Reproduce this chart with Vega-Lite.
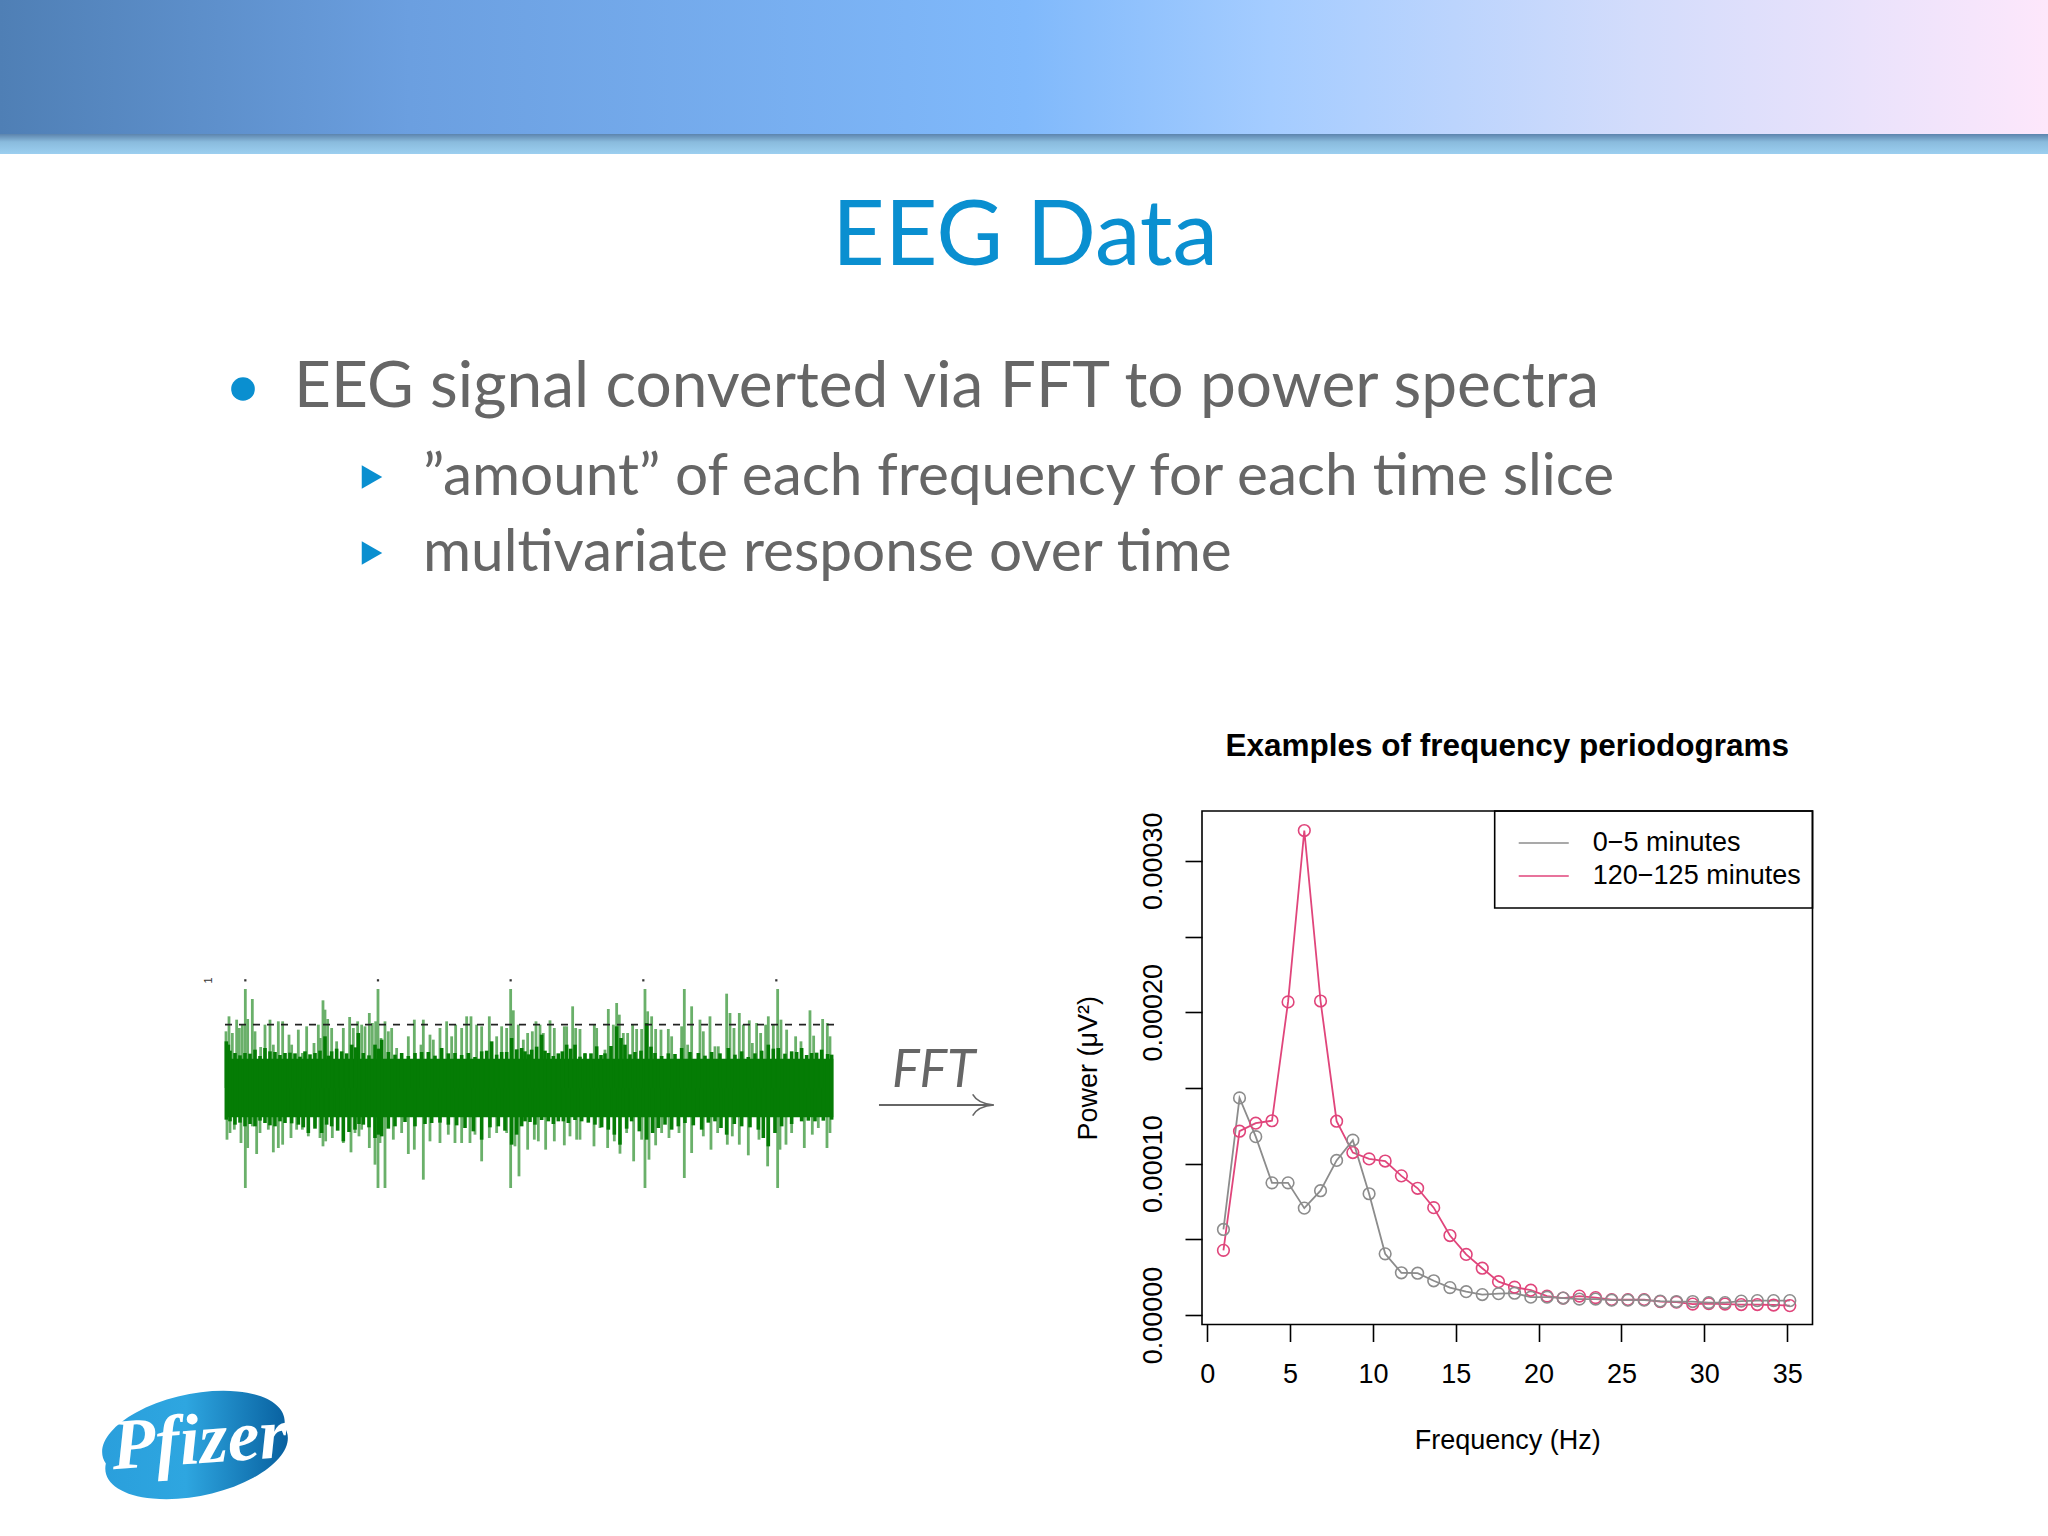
{
  "$schema": "https://vega.github.io/schema/vega-lite/v6.json",
  "description": "Slide: EEG signal converted via FFT to power spectra",
  "background": "white",
  "padding": 0,
  "bounds": "flush",
  "spacing": 0,
  "config": {
    "view": {"stroke": null},
    "font": "Liberation Sans",
    "concat": {"spacing": 0}
  },
  "resolve": {
    "scale": {"color": "independent", "size": "independent", "shape": "independent"},
    "legend": {"color": "independent"}
  },
  "datasets": {
    "spectra": [
      {"freq":0.98,"series":"120−125 minutes","power":0.0000427},{"freq":1.95,"series":"120−125 minutes","power":0.0001214},{"freq":2.93,"series":"120−125 minutes","power":0.0001267},{"freq":3.91,"series":"120−125 minutes","power":0.0001283},{"freq":4.88,"series":"120−125 minutes","power":0.0002068},{"freq":5.86,"series":"120−125 minutes","power":0.00032},{"freq":6.84,"series":"120−125 minutes","power":0.0002074},{"freq":7.81,"series":"120−125 minutes","power":0.000128},{"freq":8.79,"series":"120−125 minutes","power":0.0001073},{"freq":9.77,"series":"120−125 minutes","power":0.0001031},{"freq":10.74,"series":"120−125 minutes","power":0.0001017},{"freq":11.72,"series":"120−125 minutes","power":0.0000919},{"freq":12.7,"series":"120−125 minutes","power":0.0000837},{"freq":13.67,"series":"120−125 minutes","power":0.0000709},{"freq":14.65,"series":"120−125 minutes","power":0.0000525},{"freq":15.63,"series":"120−125 minutes","power":0.00004},{"freq":16.6,"series":"120−125 minutes","power":0.0000309},{"freq":17.58,"series":"120−125 minutes","power":0.000022},{"freq":18.55,"series":"120−125 minutes","power":0.0000184},{"freq":19.53,"series":"120−125 minutes","power":0.0000164},{"freq":20.51,"series":"120−125 minutes","power":0.0000125},{"freq":21.48,"series":"120−125 minutes","power":0.0000112},{"freq":22.46,"series":"120−125 minutes","power":0.0000125},{"freq":23.44,"series":"120−125 minutes","power":0.0000115},{"freq":24.41,"series":"120−125 minutes","power":0.0000102},{"freq":25.39,"series":"120−125 minutes","power":0.0000102},{"freq":26.37,"series":"120−125 minutes","power":0.0000102},{"freq":27.34,"series":"120−125 minutes","power":0.0000089},{"freq":28.32,"series":"120−125 minutes","power":0.0000085},{"freq":29.3,"series":"120−125 minutes","power":0.0000072},{"freq":30.27,"series":"120−125 minutes","power":0.0000075},{"freq":31.25,"series":"120−125 minutes","power":0.0000072},{"freq":32.23,"series":"120−125 minutes","power":0.0000069},{"freq":33.2,"series":"120−125 minutes","power":0.0000069},{"freq":34.18,"series":"120−125 minutes","power":0.0000066},{"freq":35.16,"series":"120−125 minutes","power":0.0000062},
      {"freq":0.98,"series":"0−5 minutes","power":0.0000565},{"freq":1.95,"series":"0−5 minutes","power":0.0001434},{"freq":2.93,"series":"0−5 minutes","power":0.0001178},{"freq":3.91,"series":"0−5 minutes","power":0.0000873},{"freq":4.88,"series":"0−5 minutes","power":0.0000873},{"freq":5.86,"series":"0−5 minutes","power":0.0000706},{"freq":6.84,"series":"0−5 minutes","power":0.0000821},{"freq":7.81,"series":"0−5 minutes","power":0.0001021},{"freq":8.79,"series":"0−5 minutes","power":0.0001155},{"freq":9.77,"series":"0−5 minutes","power":0.0000801},{"freq":10.74,"series":"0−5 minutes","power":0.0000404},{"freq":11.72,"series":"0−5 minutes","power":0.0000279},{"freq":12.7,"series":"0−5 minutes","power":0.0000276},{"freq":13.67,"series":"0−5 minutes","power":0.0000226},{"freq":14.65,"series":"0−5 minutes","power":0.0000181},{"freq":15.63,"series":"0−5 minutes","power":0.0000154},{"freq":16.6,"series":"0−5 minutes","power":0.0000135},{"freq":17.58,"series":"0−5 minutes","power":0.0000141},{"freq":18.55,"series":"0−5 minutes","power":0.0000144},{"freq":19.53,"series":"0−5 minutes","power":0.0000118},{"freq":20.51,"series":"0−5 minutes","power":0.0000118},{"freq":21.48,"series":"0−5 minutes","power":0.0000112},{"freq":22.46,"series":"0−5 minutes","power":0.0000105},{"freq":23.44,"series":"0−5 minutes","power":0.0000105},{"freq":24.41,"series":"0−5 minutes","power":0.0000098},{"freq":25.39,"series":"0−5 minutes","power":0.0000098},{"freq":26.37,"series":"0−5 minutes","power":0.0000098},{"freq":27.34,"series":"0−5 minutes","power":0.0000092},{"freq":28.32,"series":"0−5 minutes","power":0.0000089},{"freq":29.3,"series":"0−5 minutes","power":0.0000089},{"freq":30.27,"series":"0−5 minutes","power":0.0000082},{"freq":31.25,"series":"0−5 minutes","power":0.0000082},{"freq":32.23,"series":"0−5 minutes","power":0.0000092},{"freq":33.2,"series":"0−5 minutes","power":0.0000095},{"freq":34.18,"series":"0−5 minutes","power":0.0000095},{"freq":35.16,"series":"0−5 minutes","power":0.0000095}
    ],
    "eeg_core": [
      {"u":4,"a":140},{"u":10,"a":130},{"u":30,"a":105},{"u":60,"a":105},{"u":90,"a":115},{"u":120,"a":120},{"u":150,"a":108},{"u":180,"a":105},{"u":210,"a":104},{"u":240,"a":110},{"u":270,"a":105},{"u":300,"a":155},{"u":320,"a":110},{"u":350,"a":110},{"u":380,"a":130},{"u":400,"a":165},{"u":415,"a":105},{"u":450,"a":130},{"u":470,"a":145},{"u":490,"a":108},{"u":530,"a":105},{"u":570,"a":105},{"u":610,"a":108},{"u":650,"a":120},{"u":690,"a":105},{"u":730,"a":105},{"u":770,"a":110},{"u":800,"a":140},{"u":830,"a":108},{"u":860,"a":150},{"u":890,"a":120},{"u":900,"a":110},{"u":920,"a":115},{"u":950,"a":160},{"u":970,"a":105},{"u":1000,"a":104},{"u":1025,"a":130},{"u":1050,"a":130},{"u":1080,"a":104},{"u":1115,"a":125},{"u":1140,"a":104},{"u":1175,"a":185},{"u":1200,"a":130},{"u":1230,"a":108},{"u":1265,"a":195},{"u":1290,"a":105},{"u":1330,"a":104},{"u":1370,"a":120},{"u":1420,"a":105},{"u":1460,"a":108},{"u":1510,"a":120},{"u":1550,"a":110},{"u":1590,"a":104},{"u":1630,"a":130},{"u":1660,"a":120},{"u":1700,"a":110},{"u":1730,"a":120},{"u":1760,"a":105},{"u":1790,"a":115},{"u":1820,"a":100},
      {"u":15,"a":112},{"u":45,"a":98},{"u":75,"a":103},{"u":105,"a":96},{"u":135,"a":110},{"u":165,"a":99},{"u":195,"a":106},{"u":225,"a":94},{"u":255,"a":101},{"u":285,"a":112},{"u":310,"a":97},{"u":335,"a":118},{"u":365,"a":104},{"u":392,"a":122},{"u":432,"a":98},{"u":460,"a":118},{"u":510,"a":100},{"u":550,"a":96},{"u":590,"a":108},{"u":630,"a":97},{"u":670,"a":104},{"u":710,"a":99},{"u":750,"a":93},{"u":785,"a":112},{"u":815,"a":100},{"u":845,"a":108},{"u":875,"a":116},{"u":910,"a":101},{"u":935,"a":124},{"u":960,"a":112},{"u":985,"a":96},{"u":1012,"a":110},{"u":1037,"a":118},{"u":1065,"a":94},{"u":1098,"a":104},{"u":1128,"a":99},{"u":1158,"a":126},{"u":1188,"a":150},{"u":1215,"a":101},{"u":1248,"a":112},{"u":1278,"a":124},{"u":1310,"a":96},{"u":1350,"a":102},{"u":1395,"a":108},{"u":1440,"a":97},{"u":1485,"a":104},{"u":1530,"a":100},{"u":1570,"a":93},{"u":1610,"a":112},{"u":1645,"a":118},{"u":1680,"a":103},{"u":1715,"a":108},{"u":1745,"a":99},{"u":1775,"a":106},{"u":1808,"a":102},
      {"u":4,"a":-95},{"u":30,"a":-110},{"u":60,"a":-115},{"u":90,"a":-115},{"u":120,"a":-105},{"u":150,"a":-115},{"u":180,"a":-105},{"u":220,"a":-110},{"u":250,"a":-135},{"u":290,"a":-135},{"u":320,"a":-115},{"u":355,"a":-160},{"u":390,"a":-125},{"u":415,"a":-110},{"u":450,"a":-150},{"u":470,"a":-145},{"u":510,"a":-115},{"u":570,"a":-115},{"u":620,"a":-105},{"u":670,"a":-110},{"u":720,"a":-120},{"u":770,"a":-155},{"u":820,"a":-115},{"u":860,"a":-170},{"u":890,"a":-115},{"u":900,"a":-100},{"u":930,"a":-110},{"u":970,"a":-100},{"u":1000,"a":-100},{"u":1030,"a":-105},{"u":1070,"a":-100},{"u":1110,"a":-110},{"u":1150,"a":-125},{"u":1185,"a":-170},{"u":1220,"a":-100},{"u":1265,"a":-155},{"u":1300,"a":-120},{"u":1340,"a":-125},{"u":1380,"a":-105},{"u":1430,"a":-125},{"u":1470,"a":-100},{"u":1505,"a":-140},{"u":1550,"a":-115},{"u":1600,"a":-125},{"u":1630,"a":-175},{"u":1670,"a":-115},{"u":1730,"a":-100},{"u":1770,"a":-100},{"u":1820,"a":-95},
      {"u":15,"a":-100},{"u":45,"a":-104},{"u":75,"a":-108},{"u":105,"a":-98},{"u":135,"a":-112},{"u":165,"a":-100},{"u":200,"a":-106},{"u":235,"a":-118},{"u":270,"a":-122},{"u":305,"a":-110},{"u":338,"a":-128},{"u":372,"a":-132},{"u":402,"a":-108},{"u":432,"a":-118},{"u":460,"a":-140},{"u":490,"a":-122},{"u":540,"a":-102},{"u":600,"a":-108},{"u":645,"a":-104},{"u":695,"a":-112},{"u":745,"a":-130},{"u":795,"a":-118},{"u":840,"a":-128},{"u":875,"a":-140},{"u":915,"a":-102},{"u":950,"a":-96},{"u":985,"a":-108},{"u":1015,"a":-100},{"u":1050,"a":-96},{"u":1090,"a":-104},{"u":1130,"a":-118},{"u":1168,"a":-140},{"u":1205,"a":-122},{"u":1243,"a":-130},{"u":1283,"a":-135},{"u":1320,"a":-110},{"u":1360,"a":-115},{"u":1405,"a":-112},{"u":1450,"a":-104},{"u":1488,"a":-120},{"u":1528,"a":-108},{"u":1575,"a":-118},{"u":1615,"a":-150},{"u":1650,"a":-135},{"u":1700,"a":-108},{"u":1750,"a":-98},{"u":1795,"a":-98}
    ],
    "eeg_spikes": [
      {"u":3,"a":170},{"u":12,"a":215},{"u":22,"a":165},{"u":35,"a":205},{"u":43,"a":180},{"u":52,"a":190},{"u":61,"a":297},{"u":68,"a":207},{"u":82,"a":267},{"u":90,"a":170},{"u":107,"a":123},{"u":120,"a":190},{"u":135,"a":205},{"u":145,"a":130},{"u":160,"a":200},{"u":173,"a":200},{"u":192,"a":160},{"u":200,"a":130},{"u":220,"a":175},{"u":232,"a":105},{"u":245,"a":185},{"u":267,"a":135},{"u":280,"a":190},{"u":286,"a":150},{"u":294,"a":263},{"u":300,"a":235},{"u":308,"a":207},{"u":320,"a":180},{"u":335,"a":140},{"u":355,"a":180},{"u":374,"a":213},{"u":385,"a":180},{"u":398,"a":200},{"u":410,"a":190},{"u":420,"a":185},{"u":433,"a":225},{"u":442,"a":195},{"u":452,"a":200},{"u":459,"a":297},{"u":468,"a":150},{"u":480,"a":200},{"u":490,"a":170},{"u":500,"a":180},{"u":515,"a":120},{"u":550,"a":155},{"u":568,"a":205},{"u":588,"a":130},{"u":595,"a":205},{"u":615,"a":160},{"u":625,"a":145},{"u":645,"a":180},{"u":665,"a":200},{"u":680,"a":155},{"u":692,"a":190},{"u":710,"a":180},{"u":725,"a":215},{"u":738,"a":215},{"u":755,"a":190},{"u":770,"a":185},{"u":793,"a":215},{"u":815,"a":155},{"u":830,"a":185},{"u":845,"a":180},{"u":857,"a":297},{"u":865,"a":233},{"u":880,"a":190},{"u":895,"a":145},
      {"u":908,"a":165},{"u":922,"a":170},{"u":933,"a":200},{"u":945,"a":190},{"u":955,"a":165},{"u":975,"a":203},{"u":988,"a":180},{"u":1018,"a":185},{"u":1025,"a":185},{"u":1043,"a":245},{"u":1052,"a":180},{"u":1065,"a":177},{"u":1080,"a":105},{"u":1108,"a":190},{"u":1115,"a":180},{"u":1140,"a":115},{"u":1150,"a":237},{"u":1165,"a":190},{"u":1175,"a":255},{"u":1183,"a":220},{"u":1195,"a":165},{"u":1208,"a":165},{"u":1223,"a":190},{"u":1235,"a":177},{"u":1250,"a":177},{"u":1260,"a":297},{"u":1268,"a":230},{"u":1280,"a":215},{"u":1292,"a":177},{"u":1308,"a":175},{"u":1330,"a":177},{"u":1340,"a":155},{"u":1370,"a":185},{"u":1378,"a":297},{"u":1388,"a":130},{"u":1400,"a":245},{"u":1425,"a":205},{"u":1435,"a":170},{"u":1455,"a":215},{"u":1470,"a":125},{"u":1480,"a":125},{"u":1505,"a":283},{"u":1515,"a":225},{"u":1527,"a":180},{"u":1543,"a":225},{"u":1555,"a":190},{"u":1573,"a":203},{"u":1582,"a":135},{"u":1595,"a":195},{"u":1607,"a":165},{"u":1622,"a":190},{"u":1630,"a":215},{"u":1645,"a":190},{"u":1658,"a":297},{"u":1668,"a":205},{"u":1685,"a":175},{"u":1712,"a":155},{"u":1728,"a":140},{"u":1755,"a":233},{"u":1766,"a":157},{"u":1793,"a":207},{"u":1807,"a":195},{"u":1815,"a":155},
      {"u":6,"a":-155},{"u":15,"a":-135},{"u":28,"a":-125},{"u":48,"a":-165},{"u":61,"a":-300},{"u":68,"a":-180},{"u":82,"a":-115},{"u":95,"a":-198},{"u":105,"a":-135},{"u":130,"a":-125},{"u":145,"a":-193},{"u":160,"a":-180},{"u":173,"a":-170},{"u":198,"a":-150},{"u":215,"a":-125},{"u":232,"a":-125},{"u":250,"a":-145},{"u":270,"a":-115},{"u":285,"a":-150},{"u":294,"a":-175},{"u":302,"a":-160},{"u":322,"a":-150},{"u":355,"a":-165},{"u":378,"a":-193},{"u":390,"a":-135},{"u":402,"a":-145},{"u":410,"a":-125},{"u":433,"a":-180},{"u":450,"a":-230},{"u":459,"a":-300},{"u":465,"a":-165},{"u":480,"a":-300},{"u":505,"a":-155},{"u":530,"a":-135},{"u":550,"a":-198},{"u":568,"a":-185},{"u":595,"a":-275},{"u":615,"a":-160},{"u":645,"a":-165},{"u":670,"a":-140},{"u":690,"a":-165},{"u":710,"a":-165},{"u":735,"a":-165},{"u":750,"a":-140},{"u":770,"a":-220},{"u":793,"a":-150},{"u":815,"a":-135},{"u":845,"a":-135},{"u":857,"a":-300},{"u":870,"a":-175},{"u":882,"a":-265},
      {"u":908,"a":-185},{"u":928,"a":-155},{"u":940,"a":-160},{"u":962,"a":-185},{"u":988,"a":-160},{"u":1018,"a":-172},{"u":1035,"a":-145},{"u":1055,"a":-155},{"u":1065,"a":-155},{"u":1107,"a":-175},{"u":1125,"a":-120},{"u":1148,"a":-180},{"u":1168,"a":-160},{"u":1185,"a":-197},{"u":1205,"a":-135},{"u":1226,"a":-220},{"u":1250,"a":-155},{"u":1260,"a":-300},{"u":1272,"a":-215},{"u":1292,"a":-172},{"u":1310,"a":-135},{"u":1332,"a":-150},{"u":1362,"a":-135},{"u":1378,"a":-270},{"u":1400,"a":-195},{"u":1435,"a":-145},{"u":1458,"a":-185},{"u":1478,"a":-135},{"u":1507,"a":-170},{"u":1522,"a":-145},{"u":1543,"a":-170},{"u":1570,"a":-202},{"u":1602,"a":-155},{"u":1628,"a":-235},{"u":1658,"a":-300},{"u":1665,"a":-185},{"u":1683,"a":-170},{"u":1700,"a":-135},{"u":1738,"a":-180},{"u":1762,"a":-140},{"u":1780,"a":-120},{"u":1806,"a":-180},{"u":1815,"a":-135}
    ]
  },
  "vconcat": [
    {
      "width": 2048,
      "height": 134,
      "data": {"values": [{"band": "banner"}]},
      "mark": {
        "type": "rect",
        "fill": {
          "gradient": "linear", "x1": 0, "y1": 0, "x2": 1, "y2": 0,
          "stops": [
            {"offset": 0, "color": "#4f7fb5"},
            {"offset": 0.2, "color": "#6b9fe0"},
            {"offset": 0.5, "color": "#80b9fb"},
            {"offset": 0.62, "color": "#a4ccff"},
            {"offset": 0.8, "color": "#d3dcfb"},
            {"offset": 1, "color": "#fde7fb"}
          ]
        }
      }
    },
    {
      "width": 2048,
      "height": 20,
      "data": {"values": [{"band": "edge"}]},
      "mark": {
        "type": "rect",
        "fill": {
          "gradient": "linear", "x1": 0, "y1": 0, "x2": 0, "y2": 1,
          "stops": [
            {"offset": 0, "color": "#5c84ad"},
            {"offset": 0.4, "color": "#8abbdd"},
            {"offset": 1, "color": "#9ccff0"}
          ]
        }
      }
    },
    {
      "width": 2048,
      "height": 657,
      "data": {
        "values": [
          {"line": 0, "depth": 0, "level": "title", "text": "EEG Data"},
          {"line": 1, "depth": 1, "level": "bullet", "text": "EEG signal converted via FFT to power spectra"},
          {"line": 2, "depth": 2, "level": "subbullet", "text": "”amount” of each frequency for each time slice"},
          {"line": 3, "depth": 2, "level": "subbullet", "text": "multivariate response over time"}
        ]
      },
      "encoding": {
        "x": {"field": "depth", "type": "quantitative", "axis": null, "scale": {"domain": [0, 1, 2], "range": [832, 294, 423]}},
        "y": {"field": "line", "type": "quantitative", "axis": null, "scale": {"domain": [0, 1, 2, 3], "range": [111, 253, 341, 417]}}
      },
      "layer": [
        {
          "mark": {"type": "text", "font": "Lato", "align": "left", "baseline": "alphabetic"},
          "encoding": {
            "text": {"field": "text"},
            "size": {"field": "level", "type": "nominal", "legend": null, "scale": {"type": "ordinal", "domain": ["title", "bullet", "subbullet"], "range": [91.5, 64, 58.5]}},
            "color": {"field": "level", "type": "nominal", "legend": null, "scale": {"domain": ["title", "bullet", "subbullet"], "range": ["#0a8fd0", "#666666", "#666666"]}}
          }
        },
        {
          "transform": [{"filter": "datum.depth > 0"}],
          "mark": {"type": "point", "filled": true, "opacity": 1, "size": 560, "xOffset": -51, "yOffset": -18, "color": "#0a8fd0"},
          "encoding": {
            "shape": {"field": "level", "type": "nominal", "legend": null, "scale": {"domain": ["bullet", "subbullet"], "range": ["circle", "triangle-right"]}}
          }
        }
      ]
    },
    {
      "bounds": "flush",
      "spacing": 0,
      "resolve": {"scale": {"color": "independent"}, "legend": {"color": "independent"}},
      "hconcat": [
        {
          "width": 1201.3,
          "height": 725,
          "encoding": {
            "x": {"field": "u", "type": "quantitative", "axis": null, "scale": {"domain": [-675, 2929], "nice": false, "zero": false}},
            "y": {"field": "a", "type": "quantitative", "axis": null, "scale": {"domain": [-1344, 831], "nice": false, "zero": false}}
          },
          "layer": [
            {
              "data": {"name": "eeg_spikes"},
              "mark": {"type": "rule", "color": "#6ab06a", "strokeWidth": 2.8},
              "encoding": {"y2": {"datum": 0}}
            },
            {
              "data": {"values": [{"u": 0, "u2": 1825, "a": 88, "a2": -88}]},
              "mark": {"type": "rect", "color": "#057c05"},
              "encoding": {"x2": {"field": "u2"}, "y2": {"field": "a2"}}
            },
            {
              "data": {"name": "eeg_core"},
              "mark": {"type": "rule", "color": "#057c05", "strokeWidth": 3.6},
              "encoding": {"y2": {"datum": 0}}
            },
            {
              "data": {"values": [{"u": 0, "u2": 1840, "a": 190}]},
              "mark": {"type": "rule", "color": "#222222", "strokeWidth": 1.6, "strokeDash": [7, 7]},
              "encoding": {"x2": {"field": "u2"}}
            },
            {
              "data": {"values": [{"u": 61, "a": 323}, {"u": 459, "a": 323}, {"u": 857, "a": 323}, {"u": 1255, "a": 323}, {"u": 1654, "a": 323}]},
              "mark": {"type": "point", "shape": "square", "filled": true, "size": 5, "color": "#333333", "opacity": 1}
            },
            {
              "data": {"values": [{"u": -48, "a": 323, "label": "1"}]},
              "mark": {"type": "text", "angle": 270, "fontSize": 11, "color": "#333333"},
              "encoding": {"text": {"field": "label"}}
            },
            {
              "data": {"values": [{"u": 2001, "a": 3, "label": "FFT"}]},
              "mark": {"type": "text", "font": "Lato", "fontStyle": "italic", "fontSize": 52, "align": "left", "baseline": "alphabetic", "color": "#666666"},
              "encoding": {"text": {"field": "label"}}
            },
            {
              "data": {"values": [{"u": 1962, "u2": 2305, "a": -51}]},
              "mark": {"type": "rule", "color": "#666666", "strokeWidth": 1.8},
              "encoding": {"x2": {"field": "u2"}}
            },
            {
              "data": {"values": [{"u": 2275, "a": -51}]},
              "mark": {"type": "point", "shape": "M-1,-1Q-0.5,-0.1 1,0Q-0.5,0.1 -1,1", "size": 450, "filled": false, "color": "#666666", "strokeWidth": 1.6, "opacity": 1}
            },
            {
              "data": {"values": [{"u": -90, "a": -1071}]},
              "mark": {
                "type": "point",
                "shape": "M-0.96,0.2A1,0.46,-12,1,1,0.96,-0.2A1,0.46,-12,1,1,-0.96,0.2Z",
                "size": 34500,
                "filled": true,
                "opacity": 1,
                "fill": {
                  "gradient": "linear", "x1": 0, "y1": 0, "x2": 1, "y2": 0,
                  "stops": [
                    {"offset": 0, "color": "#2a9fdc"},
                    {"offset": 0.45, "color": "#2ea6e0"},
                    {"offset": 1, "color": "#08609f"}
                  ]
                }
              }
            },
            {
              "data": {"values": [{"u": -72, "a": -1125, "label": "Pfizer"}]},
              "mark": {"type": "text", "font": "Liberation Serif", "fontStyle": "italic", "fontWeight": "bold", "fontSize": 72, "angle": -4, "align": "center", "baseline": "alphabetic", "color": "white"},
              "encoding": {"text": {"field": "label"}}
            }
          ]
        },
        {
          "width": 610.5,
          "height": 513.5,
          "view": {"stroke": "black", "strokeWidth": 1.6},
          "title": {"text": "Examples of frequency periodograms", "font": "Liberation Sans", "fontSize": 31.5, "fontWeight": "bold", "anchor": "middle", "offset": 48, "color": "black"},
          "data": {"name": "spectra"},
          "encoding": {
            "x": {
              "field": "freq",
              "type": "quantitative",
              "title": "Frequency (Hz)",
              "scale": {"domain": [-0.314, 36.53], "nice": false, "zero": false},
              "axis": {"values": [0, 5, 10, 15, 20, 25, 30, 35], "grid": false, "domain": false, "tickSize": 17, "tickWidth": 1.6, "tickColor": "black", "labelFontSize": 27, "labelColor": "black", "labelPadding": 20, "labelFlush": false, "labelOverlap": false, "titleFontSize": 27, "titleFontWeight": "normal", "titleColor": "black", "titlePadding": 40}
            },
            "y": {
              "field": "power",
              "type": "quantitative",
              "title": "Power (μV²)",
              "scale": {"domain": [-0.00000627, 0.0003329], "nice": false, "zero": false},
              "axis": {"values": [0, 0.00005, 0.0001, 0.00015, 0.0002, 0.00025, 0.0003], "labelExpr": "round(datum.value * 100000) % 10 == 0 ? format(datum.value, '.5f') : ''", "grid": false, "domain": false, "tickSize": 17, "tickWidth": 1.6, "tickColor": "black", "labelAngle": 270, "labelFontSize": 27, "labelColor": "black", "labelPadding": 18, "labelFlush": false, "labelOverlap": false, "titleFontSize": 27, "titleFontWeight": "normal", "titleColor": "black", "titlePadding": 37}
            }
          },
          "layer": [
            {
              "data": {"values": [{"freq": 17.35, "freq2": 36.53, "power": 0.0003329, "power2": 0.0002688}]},
              "mark": {"type": "rect", "fill": null, "stroke": "black", "strokeWidth": 1.6},
              "encoding": {"x2": {"field": "freq2"}, "y2": {"field": "power2"}}
            },
            {
              "data": {"values": [
                {"series": "0−5 minutes", "freq": 18.8, "freq2": 21.82, "power": 0.0003118},
                {"series": "120−125 minutes", "freq": 18.8, "freq2": 21.82, "power": 0.00029}
              ]},
              "mark": {"type": "rule", "strokeWidth": 1.6},
              "encoding": {
                "x2": {"field": "freq2"},
                "color": {
                  "field": "series",
                  "type": "nominal",
                  "legend": null,
                  "scale": {"domain": ["0−5 minutes", "120−125 minutes"], "range": ["#8c8c8c", "#e0457b"]}
                }
              }
            },
            {
              "data": {"values": [
                {"series": "0−5 minutes", "freq": 23.27, "power": 0.0003118},
                {"series": "120−125 minutes", "freq": 23.27, "power": 0.00029}
              ]},
              "mark": {"type": "text", "fontSize": 27, "color": "black", "align": "left", "baseline": "middle"},
              "encoding": {"text": {"field": "series"}}
            },
            {
              "mark": {"type": "line", "strokeWidth": 1.8},
              "encoding": {"color": {"field": "series", "type": "nominal", "legend": null}}
            },
            {
              "mark": {"type": "point", "filled": false, "size": 135, "strokeWidth": 1.6, "opacity": 1},
              "encoding": {"color": {"field": "series", "type": "nominal", "legend": null}}
            }
          ]
        }
      ]
    }
  ]
}
